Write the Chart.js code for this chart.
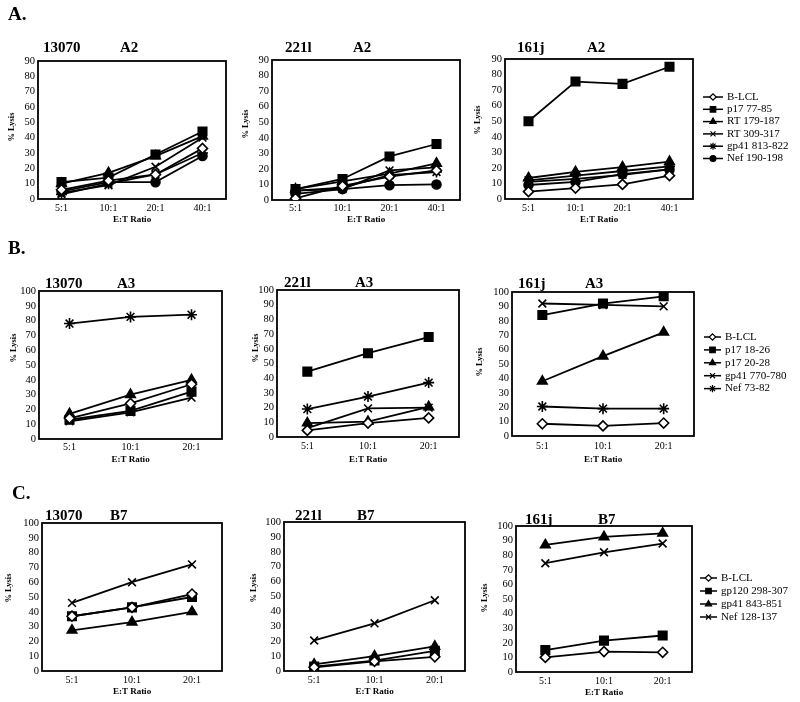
<!DOCTYPE html>
<html>
<head>
<meta charset="utf-8">
<script src="https://cdn.jsdelivr.net/npm/chart.js@4.4.0/dist/chart.umd.min.js"></script>
<style>
  html, body { margin: 0; padding: 0; background: #fff; }
  #fig { position: relative; width: 800px; height: 702px; overflow: hidden; font-family: 'Liberation Serif', 'Times New Roman', serif; color: #000; }
  #fig canvas { position: absolute; left: 0; top: 0; }
  .txt { position: absolute; white-space: nowrap; line-height: 1; font-weight: bold; }
  .sec { font-size: 19px; }
  .ttl { font-size: 15px; }
  .ylab { font-size: 8.5px; transform: translate(-50%, -50%) rotate(-90deg); }
</style>
</head>
<body>
<div id="fig"></div>
<script>
// E:T ratios on the x axis
const ratiosA = ['5:1', '10:1', '20:1', '40:1'];
const ratiosBC = ['5:1', '10:1', '20:1'];

// peptide series of each HLA restriction
const seriesA2 = ['B-LCL', 'p17 77-85', 'RT 179-187', 'RT 309-317', 'gp41 813-822', 'Nef 190-198'];
const seriesA3 = ['B-LCL', 'p17 18-26', 'p17 20-28', 'gp41 770-780', 'Nef 73-82'];
const seriesB7 = ['B-LCL', 'gp120 298-307', 'gp41 843-851', 'Nef 128-137'];

// % lysis, one row per series (same order as the series names)
const lysis13070A2 = [[6, 12, 16, 33], [11, 14, 29, 44], [10, 17, 28, 41], [4, 9, 21, 40], [3, 10, 16, 30], [5, 11, 11, 28]];
const lysis221lA2 = [[1, 9, 15, 19], [7, 13.5, 28, 36], [7, 12, 17, 23.5], [6, 7, 19, 21], [6, 8, 16, 18], [4, 7, 9.5, 10]];
const lysis161jA2 = [[4.7, 7, 9.4, 15], [50, 75.5, 74, 85], [13.5, 17.5, 20.5, 24], [11, 13, 15.5, 19], [12, 15, 18, 21], [9, 11, 16, 19]];

const lysis13070A3 = [[14, 24, 37], [13, 19, 32], [17, 30, 40], [12, 18, 28], [78, 82.5, 84]];
const lysis221lA3 = [[4.5, 9.5, 13], [44.5, 57, 68], [9.5, 10.5, 20.5], [6, 19.5, 20], [19, 27.5, 37]];
const lysis161jA3 = [[8.5, 7, 9], [84, 92, 97], [38, 55.5, 72], [92, 91, 90], [20.5, 19, 19]];

const lysis13070B7 = [[37, 43, 52], [37, 43, 50], [27.5, 33, 40], [46, 60, 72]];
const lysis221lB7 = [[2.5, 6.5, 9.5], [3, 7, 13.5], [4.5, 10, 16.5], [20.5, 32, 47.5]];
const lysis161jB7 = [[10, 14, 13.5], [15, 21.5, 25], [87, 92.5, 95], [74.5, 82, 88]];

const W = 800, H = 702;
const SERIF = "'Liberation Serif', 'Times New Roman', serif";

// marker for each series, by position in the series list
const markers = [
  { style: 'rectRot', r: 5, fill: '#fff' },
  { style: 'rect', r: 6, fill: '#000' },
  { style: 'triangle', r: 5.5, fill: '#000' },
  { style: 'crossRot', r: 5.5, fill: '#000' },
  { style: 'star', r: 5.5, fill: '#000' },
  { style: 'circle', r: 4.5, fill: '#000' }
];

const fig = document.getElementById('fig');

function addText(cls, text, x, y) {
  const d = document.createElement('div');
  d.className = 'txt ' + cls;
  d.textContent = text;
  d.style.left = x + 'px';
  d.style.top = y + 'px';
  fig.appendChild(d);
}

// box around the plot area
const boxPlugin = {
  id: 'plotBox',
  beforeDatasetsDraw(chart) {
    const a = chart.chartArea;
    const ctx = chart.ctx;
    ctx.save();
    ctx.strokeStyle = '#000';
    ctx.lineWidth = 1.8;
    ctx.strokeRect(a.left, a.top, a.right - a.left, a.bottom - a.top);
    ctx.restore();
  }
};

// legend drawn as line + marker + label
const legendPlugin = {
  id: 'lineLegend',
  afterDraw(chart, args, opts) {
    if (!opts || !opts.show) return;
    const ctx = chart.ctx;
    ctx.save();
    chart.data.datasets.forEach((ds, i) => {
      const y = opts.y + i * opts.dy;
      ctx.strokeStyle = '#000';
      ctx.lineWidth = 1.5;
      ctx.beginPath();
      ctx.moveTo(opts.x, y);
      ctx.lineTo(opts.x + opts.len, y);
      ctx.stroke();
      if (Chart.helpers && Chart.helpers.drawPoint) {
        ctx.fillStyle = ds.pointBackgroundColor;
        ctx.strokeStyle = '#000';
        ctx.lineWidth = 1.2;
        Chart.helpers.drawPoint(ctx, { pointStyle: ds.pointStyle, radius: ds.pointRadius * 0.65, borderWidth: 1.2, rotation: 0 }, opts.x + opts.len / 2, y);
      }
      ctx.fillStyle = '#000';
      ctx.font = '11px ' + SERIF;
      ctx.textBaseline = 'middle';
      ctx.textAlign = 'left';
      ctx.fillText(ds.label, opts.x + opts.len + 4, y);
    });
    ctx.restore();
  }
};

function makePanel(p) {
  const cv = document.createElement('canvas');
  cv.width = W;
  cv.height = H;
  cv.style.width = W + 'px';
  cv.style.height = H + 'px';
  fig.appendChild(cv);

  const [l, t, r, b] = p.box;
  const yW = 30;
  const titleLH = 9 * 1.2;
  const xH = p.titleY + titleLH / 2 - b;

  const datasets = p.names.map((name, i) => ({
    label: name,
    data: p.values[i],
    borderColor: '#000',
    borderWidth: 1.8,
    pointStyle: markers[i].style,
    pointRadius: markers[i].r,
    pointBackgroundColor: markers[i].fill,
    pointBorderColor: '#000',
    pointBorderWidth: 1.6,
    tension: 0,
    fill: false
  }));

  new Chart(cv, {
    type: 'line',
    data: { labels: p.labels, datasets },
    options: {
      responsive: false,
      animation: false,
      devicePixelRatio: 1,
      layout: { padding: { left: l - yW, top: t, right: W - r, bottom: H - b - xH } },
      plugins: {
        legend: { display: false },
        tooltip: { enabled: false },
        lineLegend: p.legend || { show: false }
      },
      scales: {
        x: {
          offset: true,
          grid: { display: false, drawTicks: false },
          border: { display: false },
          ticks: { color: '#000', font: { family: SERIF, size: 10 }, padding: p.tickY - 5.6 - b, maxRotation: 0, autoSkip: false },
          title: { display: true, text: 'E:T Ratio', color: '#000', font: { family: SERIF, size: 9, weight: 'bold' }, padding: 0 },
          afterFit: (s) => { s.height = xH; }
        },
        y: {
          min: 0,
          max: p.yMax,
          grid: { display: false, drawTicks: false },
          border: { display: false },
          ticks: { stepSize: 10, autoSkip: false, color: '#000', font: { family: SERIF, size: 10.5 }, padding: 3 },
          afterFit: (s) => { s.width = yW; }
        }
      }
    },
    plugins: [boxPlugin, legendPlugin]
  });

  addText('ylab', '% Lysis', p.yLab[0], p.yLab[1]);
  addText('ttl', p.donor, p.donorX, p.headY - 7.5);
  addText('ttl', p.hla, p.hlaX, p.headY - 7.5);
}

const panels = [
  { box: [38, 61, 226, 199], labels: ratiosA, names: seriesA2, values: lysis13070A2, yMax: 90, tickY: 208, titleY: 220, yLab: [11, 127], donor: '13070', hla: 'A2', donorX: 43, hlaX: 120, headY: 47 },
  { box: [272, 60, 460, 200], labels: ratiosA, names: seriesA2, values: lysis221lA2, yMax: 90, tickY: 208, titleY: 220, yLab: [245, 124], donor: '221l', hla: 'A2', donorX: 285, hlaX: 353, headY: 47 },
  { box: [505, 59, 693, 199], labels: ratiosA, names: seriesA2, values: lysis161jA2, yMax: 90, tickY: 208, titleY: 220, yLab: [477, 120], donor: '161j', hla: 'A2', donorX: 517, hlaX: 587, headY: 47,
    legend: { show: true, x: 703, y: 97, dy: 12.3, len: 20 } },

  { box: [39, 291, 222, 439], labels: ratiosBC, names: seriesA3, values: lysis13070A3, yMax: 100, tickY: 447, titleY: 460, yLab: [13, 348], donor: '13070', hla: 'A3', donorX: 45, hlaX: 117, headY: 283 },
  { box: [277, 290, 459, 437], labels: ratiosBC, names: seriesA3, values: lysis221lA3, yMax: 100, tickY: 446, titleY: 460, yLab: [255, 348], donor: '221l', hla: 'A3', donorX: 284, hlaX: 355, headY: 282 },
  { box: [512, 292, 694, 436], labels: ratiosBC, names: seriesA3, values: lysis161jA3, yMax: 100, tickY: 446, titleY: 460, yLab: [479, 362], donor: '161j', hla: 'A3', donorX: 518, hlaX: 585, headY: 283,
    legend: { show: true, x: 704, y: 337, dy: 12.9, len: 17 } },

  { box: [42, 523, 222, 671], labels: ratiosBC, names: seriesB7, values: lysis13070B7, yMax: 100, tickY: 680, titleY: 692, yLab: [8, 588], donor: '13070', hla: 'B7', donorX: 45, hlaX: 110, headY: 515 },
  { box: [284, 522, 465, 671], labels: ratiosBC, names: seriesB7, values: lysis221lB7, yMax: 100, tickY: 680, titleY: 692, yLab: [253, 588], donor: '221l', hla: 'B7', donorX: 295, hlaX: 357, headY: 515 },
  { box: [516, 526, 692, 672], labels: ratiosBC, names: seriesB7, values: lysis161jB7, yMax: 100, tickY: 681, titleY: 693, yLab: [484, 598], donor: '161j', hla: 'B7', donorX: 525, hlaX: 598, headY: 519,
    legend: { show: true, x: 700, y: 578, dy: 13, len: 17 } }
];

panels.forEach(makePanel);

addText('sec', 'A.', 8, 4);
addText('sec', 'B.', 8, 238);
addText('sec', 'C.', 12, 483);
</script>
</body>
</html>
